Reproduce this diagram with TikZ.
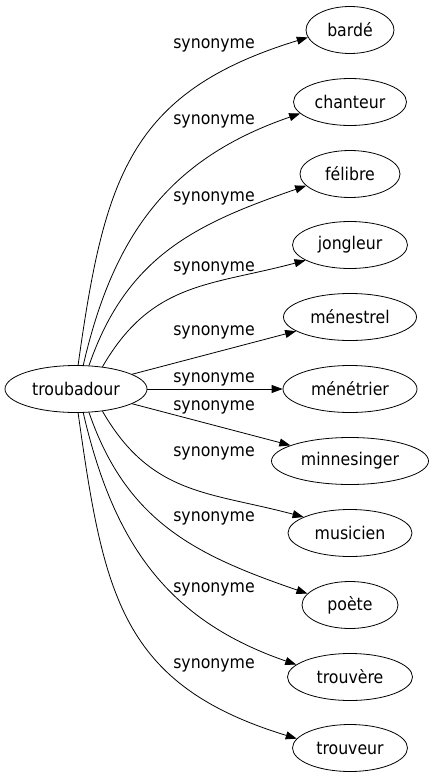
\documentclass[tikz,border=0pt]{standalone}
\usepackage{fontspec}
\setmainfont{DejaVu Sans Condensed}
\usetikzlibrary{shapes.geometric,arrows.meta}

\begin{document}
\begin{tikzpicture}[x=1pt, y=1pt,
        word/.style={draw, ellipse, inner sep=0pt, minimum height=47,
            line width=0.8pt, font=\fontsize{17.5}{20}\selectfont},
        rel/.style={font=\fontsize{17.5}{20}\selectfont},
        link/.style={line width=0.8pt, -{Triangle[length=11pt,width=8pt]}}]
        \useasboundingbox (0, 0) rectangle (435, -779);
        % central word
        \node[word, minimum width=142] (T) at (76, -389) {troubadour};
        % synonyms
        \node[word, minimum width=88]  (A) at (350,  -30) {bardé};
        \node[word, minimum width=113] (B) at (350, -102) {chanteur};
        \node[word, minimum width=100] (C) at (350, -174) {félibre};
        \node[word, minimum width=115] (D) at (350, -245) {jongleur};
        \node[word, minimum width=133] (E) at (350, -317) {ménestrel};
        \node[word, minimum width=134] (F) at (350, -389) {ménétrier};
        \node[word, minimum width=157] (G) at (350, -461) {minnesinger};
        \node[word, minimum width=124] (H) at (350, -533) {musicien};
        \node[word, minimum width=96]  (I) at (350, -605) {poète};
        \node[word, minimum width=125] (J) at (350, -677) {trouvère};
        \node[word, minimum width=115] (K) at (350, -748) {trouveur};
        % edges
        \draw[link] (T.85)  to[out=82,  in=197, looseness=1.2]  (A.190);
        \draw[link] (T.73)  to[out=77,  in=199, looseness=1.05] (B.193);
        \draw[link] (T.61)  to[out=71,  in=199, looseness=1.05] (C.195);
        \draw[link] (T.40)  to[out=60,  in=195, looseness=1.1]  (D.199);
        \draw[link] (T) -- (E);
        \draw[link] (T) -- (F);
        \draw[link] (T) -- (G);
        \draw[link] (T.-40) to[out=-60, in=165, looseness=1.1]  (H.161);
        \draw[link] (T.-61) to[out=-71, in=161, looseness=1.05] (I.165);
        \draw[link] (T.-73) to[out=-77, in=161, looseness=1.05] (J.167);
        \draw[link] (T.-85) to[out=-82, in=163, looseness=1.2]  (K.170);
        % edge labels
        \node[rel] (LA) at (214,  -45) {synonyme};
        \node[rel] (LB) at (214, -121) {synonyme};
        \node[rel] (LC) at (214, -198) {synonyme};
        \node[rel] (LD) at (214, -268) {synonyme};
        \node[rel] (LE) at (214, -332) {synonyme};
        \node[rel] (LF) at (214, -379) {synonyme};
        \node[rel] (LG) at (214, -407) {synonyme};
        \node[rel] (LH) at (214, -453) {synonyme};
        \node[rel] (LI) at (214, -518) {synonyme};
        \node[rel] (LJ) at (214, -589) {synonyme};
        \node[rel] (LK) at (214, -665) {synonyme};
        %
    \end{tikzpicture}
\end{document}
